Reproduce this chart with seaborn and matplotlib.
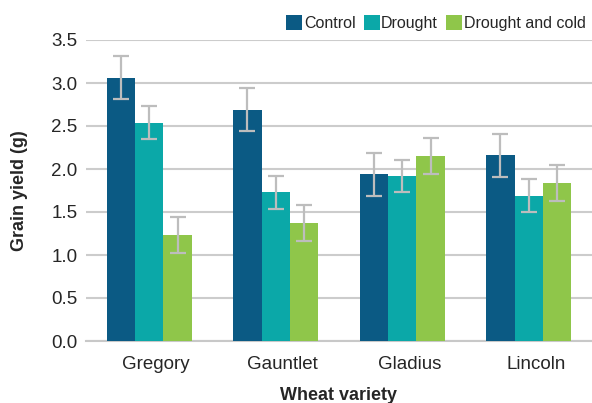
import numpy as np
import pandas as pd
import matplotlib
matplotlib.use('Agg')
import matplotlib.pyplot as plt
import matplotlib.transforms as mtransforms
import seaborn as sns

varieties = ['Gregory', 'Gauntlet', 'Gladius', 'Lincoln']
treatments = ['Control', 'Drought', 'Drought and cold']
control = [3.06, 2.69, 1.94, 2.16]
drought = [2.54, 1.73, 1.92, 1.69]
drought_cold = [1.23, 1.37, 2.15, 1.84]
control_err = [0.25, 0.25, 0.25, 0.25]
drought_err = [0.19, 0.19, 0.19, 0.19]
drought_cold_err = [0.21, 0.21, 0.21, 0.21]
colours = ['#0b5a84', '#0ba8a8', '#8fc64a']

df = pd.DataFrame({
    'variety': varieties * 3,
    'treatment': np.repeat(treatments, 4),
    'yield': control + drought + drought_cold,
    'err': control_err + drought_err + drought_cold_err,
})

sns.set_style('white')
plt.rcParams['font.family'] = ['Liberation Sans', 'DejaVu Sans']

fig = plt.figure(figsize=(5.92, 4.03), dpi=100)
ax = fig.add_axes([86/592, 1 - 341/403, 506/592, 301/403])

sns.barplot(data=df, x='variety', y='yield', hue='treatment', order=varieties,
            hue_order=treatments, palette=colours, width=0.67, gap=0,
            errorbar=None, saturation=1, linewidth=0, ax=ax, zorder=3)

# error bars at the bar centres
for cont, t in zip(ax.containers, treatments):
    sub = df[df['treatment'] == t].set_index('variety').loc[varieties]
    xs = [p.get_x() + p.get_width() / 2 for p in cont.patches]
    ax.errorbar(xs, sub['yield'], yerr=sub['err'], fmt='none', ecolor='#bdbdbd',
                elinewidth=1.6, capsize=5.5, capthick=1.6, zorder=4)

ax.set_ylim(0, 3.5)
ax.set_xlim(-0.5, 3.5)
ax.set_yticks(np.arange(0, 3.51, 0.5))
ax.set_yticklabels([f'{v:.1f}' for v in np.arange(0, 3.51, 0.5)], fontsize=13.5)
ax.yaxis.grid(True, color='#cccccc', linewidth=1.5, zorder=0)
ax.set_axisbelow(True)
for s in ['top', 'right', 'left']:
    ax.spines[s].set_visible(False)
ax.spines['bottom'].set_color('#c8c8c8')
ax.spines['bottom'].set_linewidth(1.5)
ax.tick_params(axis='y', length=0, pad=6)
ax.tick_params(axis='x', which='major', length=0, pad=11, labelsize=13.5)
ax.set_xticks([-0.5, 0.5, 1.5, 2.5], minor=True)
ax.tick_params(axis='x', which='minor', length=4, width=1.2, color='#c8c8c8', direction='out')

# category labels sit a little right of the bar groups
shift = mtransforms.ScaledTranslation(7/100, 0, fig.dpi_scale_trans)
for lab in ax.get_xticklabels():
    lab.set_transform(lab.get_transform() + shift)

ax.set_xlabel('Wheat variety', fontsize=13, fontweight='bold', labelpad=10)
ax.set_ylabel('Grain yield (g)', fontsize=13, fontweight='bold', labelpad=17)

handles, labels = ax.get_legend_handles_labels()
ax.legend_.remove()
fig.legend(handles, labels, loc='upper right', bbox_to_anchor=(1.008, 0.99), ncol=3,
           frameon=False, fontsize=11.5, handlelength=1.0, handleheight=1.0,
           handletextpad=0.1, columnspacing=0.5, borderaxespad=0.3)

fig.savefig('out.png', dpi=100)
